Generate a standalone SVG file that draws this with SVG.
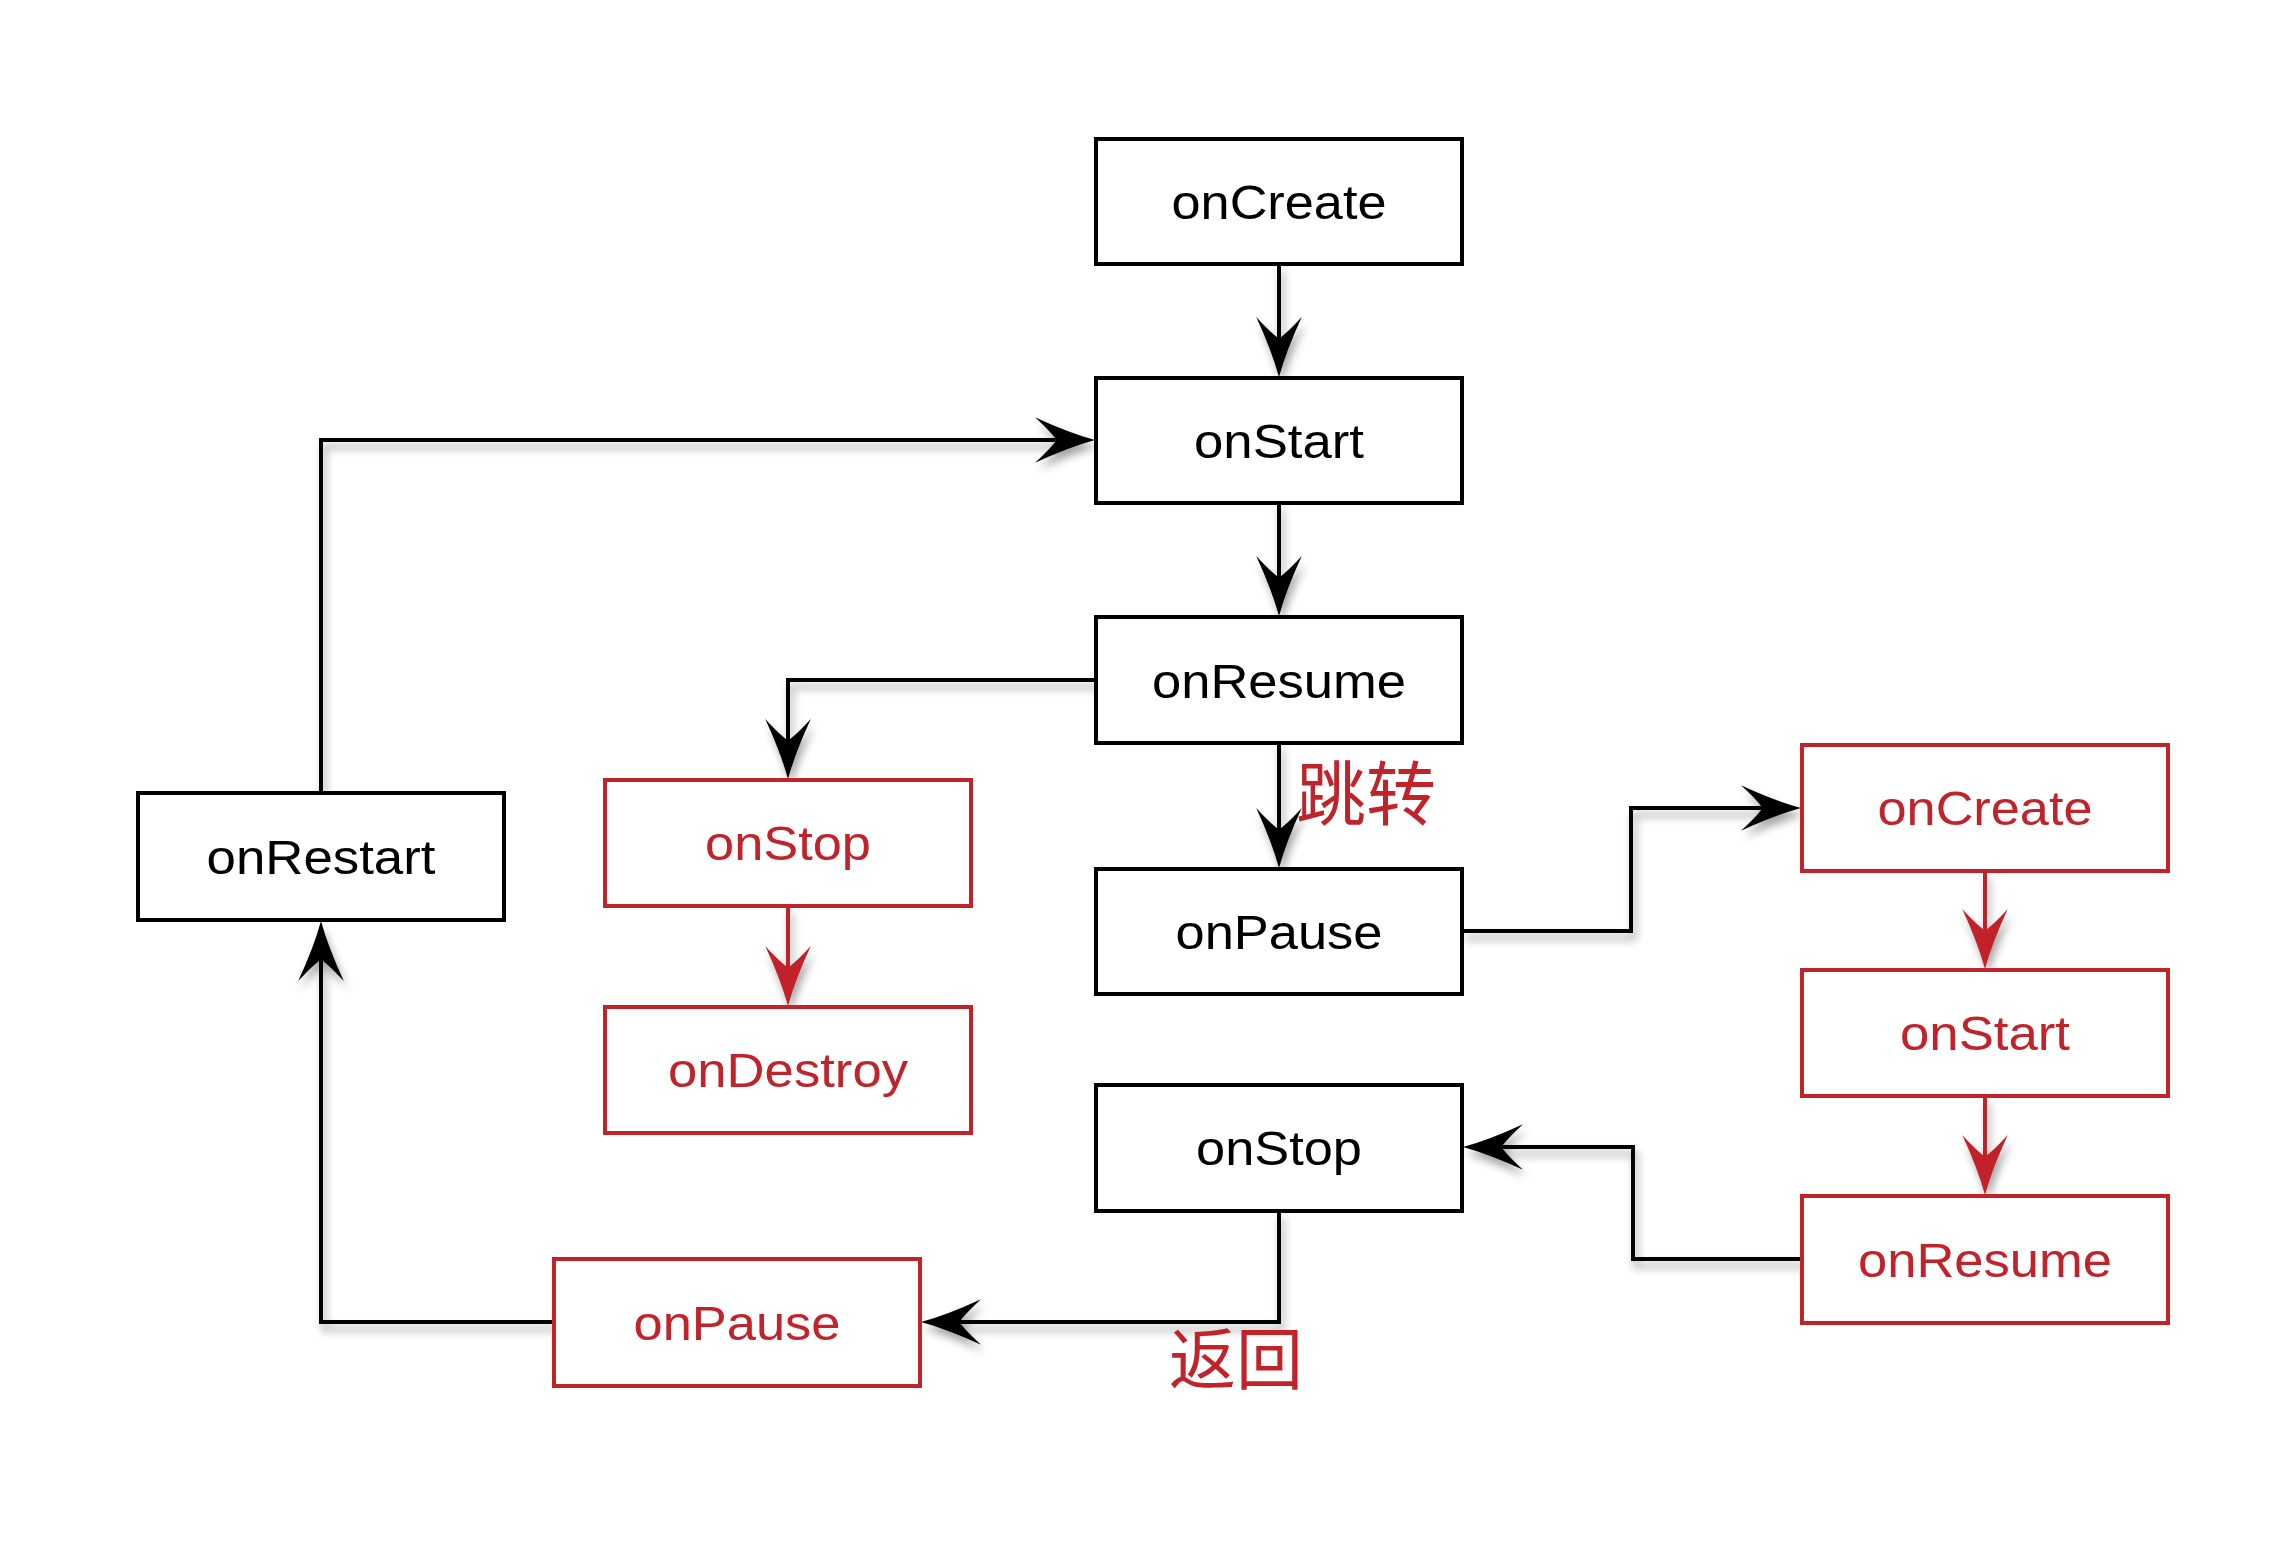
<svg xmlns="http://www.w3.org/2000/svg" width="2294" height="1561" viewBox="0 0 2294 1561">
<style>
.box{fill:#fff;stroke-width:4}
.blk{stroke:#000}
.red{stroke:#C1232B}
.lbl{font-family:"Liberation Sans",Arial,sans-serif;font-size:49px;text-anchor:middle}
.tb{fill:#000}
.tr{fill:#C1232B}
.cn{fill:none;stroke-width:4}
.cjk{font-family:"Noto Sans CJK SC","Noto Sans CJK JP",sans-serif;fill:#C1232B}
</style>
<defs>
<filter id="sh" x="-10%" y="-10%" width="120%" height="130%">
<feDropShadow dx="3" dy="7" stdDeviation="4" flood-color="#000" flood-opacity="0.35"/>
</filter>
<marker id="ab" markerUnits="userSpaceOnUse" orient="auto" refX="0" refY="0" markerWidth="80" markerHeight="60" viewBox="-45 -25 60 50" overflow="visible">
<path d="M10 0 Q-12 -6 -40 -19 Q-26 -6 -22 0 Q-26 6 -40 19 Q-12 6 10 0 Z" fill="#000"/>
</marker>
<marker id="ar" markerUnits="userSpaceOnUse" orient="auto" refX="0" refY="0" markerWidth="80" markerHeight="60" viewBox="-45 -25 60 50" overflow="visible">
<path d="M10 0 Q-12 -6 -40 -19 Q-26 -6 -22 0 Q-26 6 -40 19 Q-12 6 10 0 Z" fill="#C1232B"/>
</marker>
</defs>
<rect width="2294" height="1561" fill="#fff"/>
<g id="connectors" filter="url(#sh)">
<path class="cn" stroke="#000" marker-end="url(#ab)" d="M1279 264 V365"/>
<path class="cn" stroke="#000" marker-end="url(#ab)" d="M1279 503 V604"/>
<path class="cn" stroke="#000" marker-end="url(#ab)" d="M1279 743 V856"/>
<path class="cn" stroke="#000" marker-end="url(#ab)" d="M1096 680 H788 V767"/>
<path class="cn" stroke="#C1232B" marker-end="url(#ar)" d="M788 906 V994"/>
<path class="cn" stroke="#000" marker-end="url(#ab)" d="M1462 931 H1631 V808 H1789"/>
<path class="cn" stroke="#C1232B" marker-end="url(#ar)" d="M1985 871 V957"/>
<path class="cn" stroke="#C1232B" marker-end="url(#ar)" d="M1985 1096 V1183"/>
<path class="cn" stroke="#000" marker-end="url(#ab)" d="M1802 1259 H1633 V1147 H1475"/>
<path class="cn" stroke="#000" marker-end="url(#ab)" d="M1279 1211 V1322 H933"/>
<path class="cn" stroke="#000" marker-end="url(#ab)" d="M554 1322 H321 V933"/>
<path class="cn" stroke="#000" marker-end="url(#ab)" d="M321 793 V440 H1083"/>
</g>
<g id="labels">
<text class="cjk" x="1296" y="820" font-size="70">跳转</text>
<text class="cjk" x="1169" y="1384" font-size="67">返回</text>
</g>
<g id="n-onCreate"><rect class="box blk" x="1096" y="139" width="366" height="125"/><text class="lbl tb" x="1279" y="219" textLength="215" lengthAdjust="spacingAndGlyphs">onCreate</text></g>
<g id="n-onStart"><rect class="box blk" x="1096" y="378" width="366" height="125"/><text class="lbl tb" x="1279" y="458" textLength="170" lengthAdjust="spacingAndGlyphs">onStart</text></g>
<g id="n-onResume"><rect class="box blk" x="1096" y="617" width="366" height="126"/><text class="lbl tb" x="1279" y="698" textLength="254" lengthAdjust="spacingAndGlyphs">onResume</text></g>
<g id="n-onPause"><rect class="box blk" x="1096" y="869" width="366" height="125"/><text class="lbl tb" x="1279" y="949" textLength="207" lengthAdjust="spacingAndGlyphs">onPause</text></g>
<g id="n-onStop"><rect class="box blk" x="1096" y="1085" width="366" height="126"/><text class="lbl tb" x="1279" y="1165" textLength="166" lengthAdjust="spacingAndGlyphs">onStop</text></g>
<g id="n-onRestart"><rect class="box blk" x="138" y="793" width="366" height="127"/><text class="lbl tb" x="321" y="874" textLength="229" lengthAdjust="spacingAndGlyphs">onRestart</text></g>
<g id="n-onStop-red"><rect class="box red" x="605" y="780" width="366" height="126"/><text class="lbl tr" x="788" y="860" textLength="166" lengthAdjust="spacingAndGlyphs">onStop</text></g>
<g id="n-onDestroy-red"><rect class="box red" x="605" y="1007" width="366" height="126"/><text class="lbl tr" x="788" y="1087" textLength="240" lengthAdjust="spacingAndGlyphs">onDestroy</text></g>
<g id="n-onPause-red"><rect class="box red" x="554" y="1259" width="366" height="127"/><text class="lbl tr" x="737" y="1340" textLength="207" lengthAdjust="spacingAndGlyphs">onPause</text></g>
<g id="n-onCreate-red"><rect class="box red" x="1802" y="745" width="366" height="126"/><text class="lbl tr" x="1985" y="825" textLength="215" lengthAdjust="spacingAndGlyphs">onCreate</text></g>
<g id="n-onStart-red"><rect class="box red" x="1802" y="970" width="366" height="126"/><text class="lbl tr" x="1985" y="1050" textLength="170" lengthAdjust="spacingAndGlyphs">onStart</text></g>
<g id="n-onResume-red"><rect class="box red" x="1802" y="1196" width="366" height="127"/><text class="lbl tr" x="1985" y="1277" textLength="254" lengthAdjust="spacingAndGlyphs">onResume</text></g>
</svg>
